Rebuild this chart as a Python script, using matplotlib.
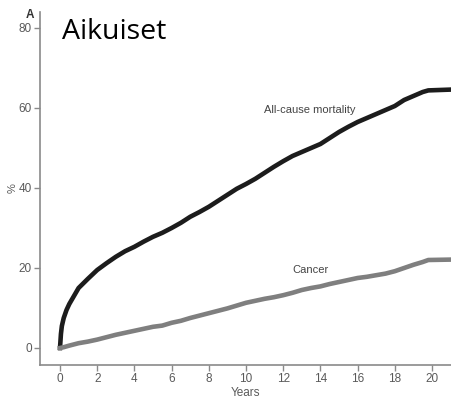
import matplotlib
matplotlib.use('Agg')
import matplotlib.pyplot as plt

# ---------- Cumulative incidence (%) by follow-up year ---------- #

years = [0, 0.05, 0.1, 0.2, 0.35, 0.5, 0.75, 1.0, 1.5, 2.0, 2.5, 3.0, 3.5,
         4.0, 4.5, 5.0, 5.5, 6.0, 6.5, 7.0, 7.5, 8.0, 8.5, 9.0, 9.5, 10.0,
         10.5, 11.0, 11.5, 12.0, 12.5, 13.0, 13.5, 14.0, 14.5, 15.0, 15.5,
         16.0, 16.5, 17.0, 17.5, 18.0, 18.5, 19.0, 19.5, 19.8, 21.0]
all_cause = [0, 3.5, 5.5, 7.5, 9.5, 11.0, 13.0, 15.0, 17.3, 19.5, 21.2,
             22.8, 24.2, 25.3, 26.6, 27.8, 28.8, 30.0, 31.3, 32.8, 34.0,
             35.3, 36.8, 38.3, 39.8, 41.0, 42.3, 43.8, 45.3, 46.7, 48.0,
             49.0, 50.0, 51.0, 52.5, 54.0, 55.3, 56.5, 57.5, 58.5, 59.5,
             60.5, 62.0, 63.0, 64.0, 64.4, 64.6]
cancer = [0, 0.05, 0.1, 0.2, 0.4, 0.6, 0.9, 1.2, 1.6, 2.1, 2.7, 3.3, 3.8,
          4.3, 4.8, 5.3, 5.6, 6.3, 6.8, 7.5, 8.1, 8.7, 9.3, 9.9, 10.6,
          11.3, 11.8, 12.3, 12.7, 13.2, 13.8, 14.5, 15.0, 15.4, 16.0, 16.5,
          17.0, 17.5, 17.8, 18.2, 18.6, 19.2, 20.0, 20.8, 21.5, 22.0, 22.1]

xticks = list(range(0, 21, 2))
yticks = [0, 20, 40, 60, 80]

plt.rcParams['font.family'] = ['Liberation Sans', 'DejaVu Sans']

fig = plt.figure(figsize=(4.51, 3.99), dpi=100)
ax = fig.add_axes([40 / 451, 34 / 399, 411 / 451, 353 / 399])

ax.plot(years, all_cause, color='#1c1c1c', lw=3.3, solid_joinstyle='round')
ax.plot(years, cancer, color='#7f7f7f', lw=3.3, solid_joinstyle='round')

ax.set_xlim(-1.075, 21.02)
ax.set_ylim(-4.25, 84)
ax.set_xticks(xticks)
ax.set_yticks(yticks)

grey = '#8a8a8a'
txt = '#5a5a5a'
for side in ['top', 'right']:
    ax.spines[side].set_visible(False)
for side in ['left', 'bottom']:
    ax.spines[side].set_color(grey)
    ax.spines[side].set_linewidth(1.2)
ax.tick_params(colors=grey, labelcolor=txt, labelsize=8.5,
               length=4, width=1.0, pad=2)

ax.set_xlabel('Years', fontsize=8.5, color=txt, labelpad=1)
ax.text(-0.066, 0.5, '%', transform=ax.transAxes, rotation=90,
        fontsize=8, color=txt, ha='center', va='center')

# ---------- Curve labels and panel title ---------- #

ax.text(10.95, 59.5, 'All-cause mortality', fontsize=8, color='#444444',
        ha='left', va='center')
ax.text(12.47, 19.5, 'Cancer', fontsize=8, color='#444444',
        ha='left', va='center')
fig.text(0.058, 0.963, 'A', fontsize=8.5, fontweight='bold',
         color='#333333', ha='left', va='center')
fig.text(62 / 451, 1 - 32 / 399, 'Aikuiset', family='Open Sans',
         fontsize=20.5, color='black', ha='left', va='center')

fig.savefig('out.png', dpi=100)
